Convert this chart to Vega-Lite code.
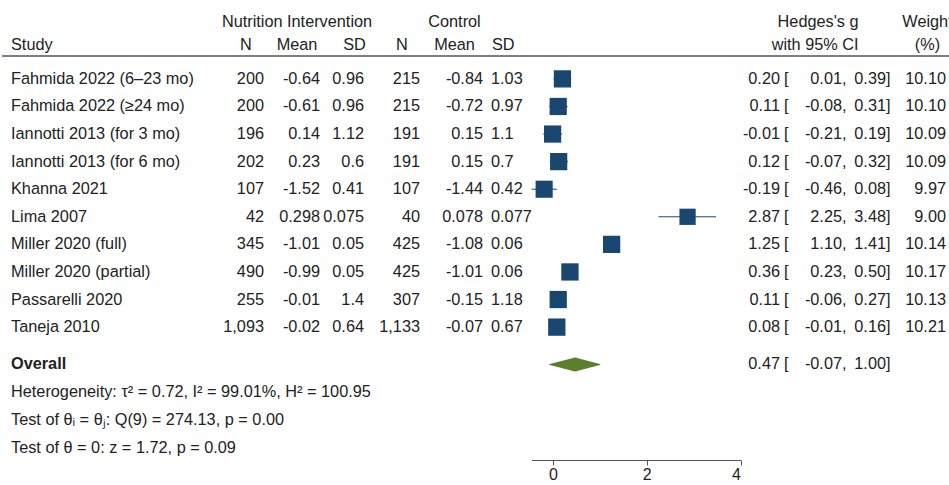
{
  "$schema": "https://vega.github.io/schema/vega-lite/v6.json",
  "padding": {"left": 0, "top": 13, "right": 0, "bottom": 0},
  "autosize": {"type": "pad"},
  "config": {
    "view": {"stroke": "transparent"},
    "text": {"font": "Liberation Sans", "fontSize": 16.3, "color": "#222222"},
    "title": {"font": "Liberation Sans", "fontSize": 16.3, "fontWeight": "normal", "color": "#222222", "offset": 2, "lineHeight": 23},
    "axis": {"labelFont": "Liberation Sans", "labelFontSize": 16, "labelColor": "#222222", "domainColor": "#555555", "tickColor": "#555555", "tickSize": 5, "grid": false, "labelPadding": 1},
    "locale": {"number": {"decimal": ".", "thousands": ",", "grouping": [3], "currency": ["$", ""], "minus": "-"}}
  },
  "datasets": {
    "studies": [
      {"study": "Fahmida 2022 (6–23 mo)", "n1": 200, "m1": -0.64, "sd1": 0.96, "n2": 215, "m2": -0.84, "sd2": 1.03, "g": 0.20, "lo": 0.01, "hi": 0.39, "w": 10.10},
      {"study": "Fahmida 2022 (≥24 mo)", "n1": 200, "m1": -0.61, "sd1": 0.96, "n2": 215, "m2": -0.72, "sd2": 0.97, "g": 0.11, "lo": -0.08, "hi": 0.31, "w": 10.10},
      {"study": "Iannotti 2013 (for 3 mo)", "n1": 196, "m1": 0.14, "sd1": 1.12, "n2": 191, "m2": 0.15, "sd2": 1.1, "g": -0.01, "lo": -0.21, "hi": 0.19, "w": 10.09},
      {"study": "Iannotti 2013 (for 6 mo)", "n1": 202, "m1": 0.23, "sd1": 0.6, "n2": 191, "m2": 0.15, "sd2": 0.7, "g": 0.12, "lo": -0.07, "hi": 0.32, "w": 10.09},
      {"study": "Khanna 2021", "n1": 107, "m1": -1.52, "sd1": 0.41, "n2": 107, "m2": -1.44, "sd2": 0.42, "g": -0.19, "lo": -0.46, "hi": 0.08, "w": 9.97},
      {"study": "Lima 2007", "n1": 42, "m1": 0.298, "sd1": 0.075, "n2": 40, "m2": 0.078, "sd2": 0.077, "g": 2.87, "lo": 2.25, "hi": 3.48, "w": 9.00},
      {"study": "Miller 2020 (full)", "n1": 345, "m1": -1.01, "sd1": 0.05, "n2": 425, "m2": -1.08, "sd2": 0.06, "g": 1.25, "lo": 1.10, "hi": 1.41, "w": 10.14},
      {"study": "Miller 2020 (partial)", "n1": 490, "m1": -0.99, "sd1": 0.05, "n2": 425, "m2": -1.01, "sd2": 0.06, "g": 0.36, "lo": 0.23, "hi": 0.50, "w": 10.17},
      {"study": "Passarelli 2020", "n1": 255, "m1": -0.01, "sd1": 1.4, "n2": 307, "m2": -0.15, "sd2": 1.18, "g": 0.11, "lo": -0.06, "hi": 0.27, "w": 10.13},
      {"study": "Taneja 2010", "n1": 1093, "m1": -0.02, "sd1": 0.64, "n2": 1133, "m2": -0.07, "sd2": 0.67, "g": 0.08, "lo": -0.01, "hi": 0.16, "w": 10.21}
    ],
    "summary": [
      {"key": "Overall", "label": "Overall", "g": 0.47, "lo": -0.07, "hi": 1.00},
      {"key": "het", "label": "Heterogeneity: τ² = 0.72, I² = 99.01%, H² = 100.95"},
      {"key": "q", "label": "Test of θᵢ = θⱼ: Q(9) = 274.13, p = 0.00"},
      {"key": "z", "label": "Test of θ = 0: z = 1.72, p = 0.09"}
    ],
    "frame": [{}]
  },
  "bounds": "full",
  "spacing": 0,
  "vconcat": [
    {
      "bounds": "flush",
      "spacing": 0,
      "hconcat": [
        {
          "width": 18, "height": 294,
          "title": {"text": "Study", "anchor": "middle", "align": "left"},
          "layer": [
            {"data": {"name": "studies"}, "mark": {"type": "text", "align": "left"},
             "encoding": {"y": {"field": "study", "type": "nominal", "sort": null, "scale": {"type": "point", "padding": 0.83}, "axis": null},
                          "text": {"field": "study", "type": "nominal"}}},
            {"data": {"name": "frame"}, "mark": {"type": "rule", "color": "#555555", "strokeWidth": 1.5}, "encoding": {"y": {"value": 0}}}
          ]
        },
        {
          "width": 244, "height": 294,
          "title": {"text": "N", "anchor": "end", "dx": -13},
          "layer": [
            {"data": {"name": "studies"}, "mark": {"type": "text", "align": "right"},
             "encoding": {"y": {"field": "study", "type": "nominal", "sort": null, "scale": {"type": "point", "padding": 0.83}, "axis": null},
                          "x": {"value": "width"},
                          "text": {"field": "n1", "type": "quantitative", "format": ","}}},
            {"data": {"name": "frame"}, "mark": {"type": "rule", "color": "#555555", "strokeWidth": 1.5}, "encoding": {"y": {"value": 0}}}
          ]
        },
        {
          "width": 56, "height": 294,
          "title": {"text": ["Nutrition Intervention", "Mean"], "anchor": "middle", "dx": 5},
          "layer": [
            {"data": {"name": "studies"}, "mark": {"type": "text", "align": "right"},
             "encoding": {"y": {"field": "study", "type": "nominal", "sort": null, "scale": {"type": "point", "padding": 0.83}, "axis": null},
                          "x": {"value": "width"},
                          "text": {"field": "m1", "type": "nominal"}}},
            {"data": {"name": "frame"}, "mark": {"type": "rule", "color": "#555555", "strokeWidth": 1.5}, "encoding": {"y": {"value": 0}}}
          ]
        },
        {
          "width": 44, "height": 294,
          "title": {"text": "SD", "anchor": "end", "dx": 1},
          "layer": [
            {"data": {"name": "studies"}, "mark": {"type": "text", "align": "right"},
             "encoding": {"y": {"field": "study", "type": "nominal", "sort": null, "scale": {"type": "point", "padding": 0.83}, "axis": null},
                          "x": {"value": "width"},
                          "text": {"field": "sd1", "type": "nominal"}}},
            {"data": {"name": "frame"}, "mark": {"type": "rule", "color": "#555555", "strokeWidth": 1.5}, "encoding": {"y": {"value": 0}}}
          ]
        },
        {
          "width": 56, "height": 294,
          "title": {"text": "N", "anchor": "end", "dx": -13},
          "layer": [
            {"data": {"name": "studies"}, "mark": {"type": "text", "align": "right"},
             "encoding": {"y": {"field": "study", "type": "nominal", "sort": null, "scale": {"type": "point", "padding": 0.83}, "axis": null},
                          "x": {"value": "width"},
                          "text": {"field": "n2", "type": "quantitative", "format": ","}}},
            {"data": {"name": "frame"}, "mark": {"type": "rule", "color": "#555555", "strokeWidth": 1.5}, "encoding": {"y": {"value": 0}}}
          ]
        },
        {
          "width": 63, "height": 294,
          "title": {"text": ["Control", "Mean"], "anchor": "middle", "dx": 3},
          "layer": [
            {"data": {"name": "studies"}, "mark": {"type": "text", "align": "right"},
             "encoding": {"y": {"field": "study", "type": "nominal", "sort": null, "scale": {"type": "point", "padding": 0.83}, "axis": null},
                          "x": {"value": "width"},
                          "text": {"field": "m2", "type": "nominal"}}},
            {"data": {"name": "frame"}, "mark": {"type": "rule", "color": "#555555", "strokeWidth": 1.5}, "encoding": {"y": {"value": 0}}}
          ]
        },
        {
          "width": 16, "height": 294,
          "title": {"text": "SD", "anchor": "middle", "align": "left", "dx": 1},
          "layer": [
            {"data": {"name": "studies"}, "mark": {"type": "text", "align": "left"},
             "encoding": {"y": {"field": "study", "type": "nominal", "sort": null, "scale": {"type": "point", "padding": 0.83}, "axis": null},
                          "text": {"field": "sd2", "type": "nominal"}}},
            {"data": {"name": "frame"}, "mark": {"type": "rule", "color": "#555555", "strokeWidth": 1.5}, "encoding": {"y": {"value": 0}}}
          ]
        },
        {
          "width": 263, "height": 294,
          "layer": [
            {"data": {"name": "studies"}, "mark": {"type": "rule", "color": "#1a476f", "strokeWidth": 1},
             "encoding": {"y": {"field": "study", "type": "nominal", "sort": null, "scale": {"type": "point", "padding": 0.83}, "axis": null},
                          "x": {"field": "lo", "type": "quantitative", "scale": {"domain": [-0.46, 4], "range": [32.5, 241.5], "nice": false, "zero": false}, "axis": null},
                          "x2": {"field": "hi"}}},
            {"data": {"name": "studies"}, "mark": {"type": "point", "shape": "square", "filled": true, "opacity": 1, "color": "#1a476f"},
             "encoding": {"y": {"field": "study", "type": "nominal", "sort": null},
                          "x": {"field": "g", "type": "quantitative"},
                          "size": {"field": "w", "type": "quantitative", "scale": {"zero": true, "range": [0, 300]}, "legend": null}}},
            {"data": {"name": "frame"}, "mark": {"type": "rule", "color": "#555555", "strokeWidth": 1.5}, "encoding": {"y": {"value": 0}}}
          ]
        },
        {
          "width": 18, "height": 294,
          "layer": [
            {"data": {"name": "studies"}, "mark": {"type": "text", "align": "right"},
             "encoding": {"y": {"field": "study", "type": "nominal", "sort": null, "scale": {"type": "point", "padding": 0.83}, "axis": null},
                          "x": {"value": "width"},
                          "text": {"field": "g", "type": "quantitative", "format": ".2f"}}},
            {"data": {"name": "studies"}, "mark": {"type": "text", "align": "left", "dx": 4},
             "encoding": {"y": {"field": "study", "type": "nominal", "sort": null},
                          "x": {"value": "width"},
                          "text": {"value": "["}}},
            {"data": {"name": "frame"}, "mark": {"type": "rule", "color": "#555555", "strokeWidth": 1.5}, "encoding": {"y": {"value": 0}}}
          ]
        },
        {
          "width": 62, "height": 294,
          "title": {"text": ["Hedges's g", "with 95% CI"], "anchor": "end", "align": "right", "dx": 12},
          "layer": [
            {"data": {"name": "studies"}, "mark": {"type": "text", "align": "right"},
             "encoding": {"y": {"field": "study", "type": "nominal", "sort": null, "scale": {"type": "point", "padding": 0.83}, "axis": null},
                          "x": {"value": "width"},
                          "text": {"field": "lo", "type": "quantitative", "format": ".2f"}}},
            {"data": {"name": "studies"}, "mark": {"type": "text", "align": "left"},
             "encoding": {"y": {"field": "study", "type": "nominal", "sort": null},
                          "x": {"value": "width"},
                          "text": {"value": ","}}},
            {"data": {"name": "frame"}, "mark": {"type": "rule", "color": "#555555", "strokeWidth": 1.5}, "encoding": {"y": {"value": 0}}}
          ]
        },
        {
          "width": 44, "height": 294,
          "layer": [
            {"data": {"name": "studies"}, "mark": {"type": "text", "align": "right"},
             "encoding": {"y": {"field": "study", "type": "nominal", "sort": null, "scale": {"type": "point", "padding": 0.83}, "axis": null},
                          "x": {"value": "width"},
                          "text": {"field": "hi", "type": "quantitative", "format": ".2f"}}},
            {"data": {"name": "studies"}, "mark": {"type": "text", "align": "left"},
             "encoding": {"y": {"field": "study", "type": "nominal", "sort": null},
                          "x": {"value": "width"},
                          "text": {"value": "]"}}},
            {"data": {"name": "frame"}, "mark": {"type": "rule", "color": "#555555", "strokeWidth": 1.5}, "encoding": {"y": {"value": 0}}}
          ]
        },
        {
          "width": 65, "height": 294,
          "title": {"text": ["Weight", "(%)"], "anchor": "middle", "dx": 9},
          "layer": [
            {"data": {"name": "studies"}, "mark": {"type": "text", "align": "right", "dx": -5},
             "encoding": {"y": {"field": "study", "type": "nominal", "sort": null, "scale": {"type": "point", "padding": 0.83}, "axis": null},
                          "x": {"value": "width"},
                          "text": {"field": "w", "type": "quantitative", "format": ".2f"}}},
            {"data": {"name": "frame"}, "mark": {"type": "rule", "color": "#555555", "strokeWidth": 1.5}, "encoding": {"y": {"value": 0}}}
          ]
        }
      ]
    },
    {
      "bounds": "flush",
      "spacing": 0,
      "hconcat": [
        {
          "width": 18, "height": 108,
          "data": {"name": "summary"},
          "layer": [
            {"transform": [{"filter": "datum.key === 'Overall'"}],
             "mark": {"type": "text", "align": "left", "fontWeight": "bold"},
             "encoding": {"y": {"field": "key", "type": "nominal", "scale": {"type": "point", "padding": 0.45, "domain": ["Overall", "het", "q", "z"]}, "axis": null},
                          "text": {"field": "label", "type": "nominal"}}},
            {"transform": [{"filter": "datum.key !== 'Overall'"}],
             "mark": {"type": "text", "align": "left"},
             "encoding": {"y": {"field": "key", "type": "nominal"},
                          "text": {"field": "label", "type": "nominal"}}}
          ]
        },
        {
          "width": 479, "height": 108,
          "data": {"values": []},
          "mark": "text"
        },
        {
          "width": 263, "height": 108,
          "data": {"name": "summary"},
          "transform": [{"filter": "datum.key === 'Overall'"}, {"fold": ["lo", "g", "hi"], "as": ["stat", "value"]}],
          "mark": {"type": "trail", "color": "#5b7f2c"},
          "encoding": {
            "y": {"field": "key", "type": "nominal", "scale": {"type": "point", "padding": 0.45, "domain": ["Overall", "het", "q", "z"]}, "axis": null},
            "x": {"field": "value", "type": "quantitative", "scale": {"domain": [-0.46, 4], "range": [32.5, 241.5], "nice": false, "zero": false},
                  "axis": {"values": [0, 2, 4], "title": null}},
            "order": {"field": "value", "type": "quantitative"},
            "size": {"condition": {"test": "datum.stat === 'g'", "value": 14}, "value": 0}
          }
        },
        {
          "width": 18, "height": 108,
          "data": {"name": "summary"},
          "transform": [{"filter": "datum.key === 'Overall'"}],
          "layer": [
            {"mark": {"type": "text", "align": "right"},
             "encoding": {"y": {"field": "key", "type": "nominal", "scale": {"type": "point", "padding": 0.45, "domain": ["Overall", "het", "q", "z"]}, "axis": null},
                          "x": {"value": "width"},
                          "text": {"field": "g", "type": "quantitative", "format": ".2f"}}},
            {"mark": {"type": "text", "align": "left", "dx": 4},
             "encoding": {"y": {"field": "key", "type": "nominal"},
                          "x": {"value": "width"},
                          "text": {"value": "["}}}
          ]
        },
        {
          "width": 62, "height": 108,
          "data": {"name": "summary"},
          "transform": [{"filter": "datum.key === 'Overall'"}],
          "layer": [
            {"mark": {"type": "text", "align": "right"},
             "encoding": {"y": {"field": "key", "type": "nominal", "scale": {"type": "point", "padding": 0.45, "domain": ["Overall", "het", "q", "z"]}, "axis": null},
                          "x": {"value": "width"},
                          "text": {"field": "lo", "type": "quantitative", "format": ".2f"}}},
            {"mark": {"type": "text", "align": "left"},
             "encoding": {"y": {"field": "key", "type": "nominal"},
                          "x": {"value": "width"},
                          "text": {"value": ","}}}
          ]
        },
        {
          "width": 44, "height": 108,
          "data": {"name": "summary"},
          "transform": [{"filter": "datum.key === 'Overall'"}],
          "layer": [
            {"mark": {"type": "text", "align": "right"},
             "encoding": {"y": {"field": "key", "type": "nominal", "scale": {"type": "point", "padding": 0.45, "domain": ["Overall", "het", "q", "z"]}, "axis": null},
                          "x": {"value": "width"},
                          "text": {"field": "hi", "type": "quantitative", "format": ".2f"}}},
            {"mark": {"type": "text", "align": "left"},
             "encoding": {"y": {"field": "key", "type": "nominal"},
                          "x": {"value": "width"},
                          "text": {"value": "]"}}}
          ]
        }
      ]
    }
  ]
}
